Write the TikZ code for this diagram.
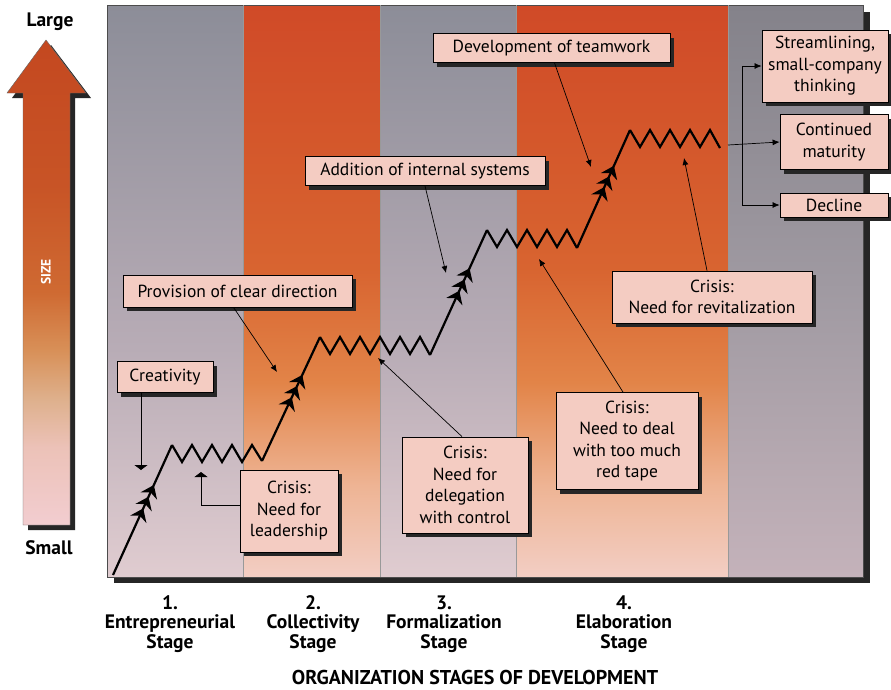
\documentclass[tikz,border=0pt]{standalone}
\usepackage{fontspec}
\setmainfont{PT Sans}
\usetikzlibrary{arrows.meta,decorations.markings,shadows}
\definecolor{boxpink}{HTML}{F4CCC2}
\pgfdeclareverticalshading{greyband}{100bp}{color(0bp)=(rgb,255:red,224;green,204;blue,208);
  color(25bp)=(rgb,255:red,224;green,204;blue,208); color(45bp)=(rgb,255:red,184;green,172;blue,182);
  color(75bp)=(rgb,255:red,140;green,141;blue,152); color(100bp)=(rgb,255:red,140;green,141;blue,152)}
\pgfdeclareverticalshading{darkband}{100bp}{color(0bp)=(rgb,255:red,196;green,178;blue,186);
  color(25bp)=(rgb,255:red,196;green,178;blue,186); color(50bp)=(rgb,255:red,160;green,154;blue,162);
  color(75bp)=(rgb,255:red,132;green,130;blue,138); color(100bp)=(rgb,255:red,132;green,130;blue,138)}
\pgfdeclareverticalshading{orband}{100bp}{color(0bp)=(rgb,255:red,243;green,206;blue,196);
  color(25bp)=(rgb,255:red,243;green,206;blue,196); color(33bp)=(rgb,255:red,238;green,180;blue,148);
  color(42bp)=(rgb,255:red,226;green,132;blue,72); color(52bp)=(rgb,255:red,216;green,100;blue,48);
  color(66bp)=(rgb,255:red,211;green,84;blue,42); color(75bp)=(rgb,255:red,208;green,74;blue,40);
  color(100bp)=(rgb,255:red,208;green,74;blue,40)}
\pgfdeclareverticalshading{sizearrow}{100bp}{color(0bp)=(rgb,255:red,242;green,205;blue,208);
  color(25bp)=(rgb,255:red,242;green,205;blue,208); color(33bp)=(rgb,255:red,236;green,194;blue,184);
  color(38bp)=(rgb,255:red,222;green,176;blue,140); color(43bp)=(rgb,255:red,216;green,144;blue,88);
  color(49bp)=(rgb,255:red,207;green,106;blue,50); color(60bp)=(rgb,255:red,200;green,84;blue,38);
  color(75bp)=(rgb,255:red,196;green,72;blue,32); color(100bp)=(rgb,255:red,196;green,72;blue,32)}
\begin{document}
\begin{tikzpicture}[x=1pt,y=-1pt,
  >={Latex[length=7pt,width=6pt]},
  box/.style={draw=black,line width=0.8pt,fill=boxpink,align=center,inner sep=0pt,
    font=\fontsize{17.5}{21.5}\selectfont,
    drop shadow={shadow xshift=4pt,shadow yshift=-4pt,fill=black!85,opacity=1}},
  conn/.style={draw,line width=0.7pt,->},
  flat/.style={draw,line width=0.8pt,-{Triangle[length=5pt,width=13pt]}},
  growth/.style={draw,line width=2.2pt,line join=miter},
  barbs/.style={postaction={decorate},decoration={markings,
    mark=between positions 0.47 and 0.66 step 0.09 with {\fill (6pt,0pt) -- (-6pt,9pt) -- (-2pt,0pt) -- (-6pt,-9pt) -- cycle;}}},
  stage/.style={font=\bfseries\fontsize{19.5}{19.5}\selectfont,align=center,anchor=north}]
  \useasboundingbox (0,0) rectangle (891,689);
  \fill[white] (0,0) rectangle (891,689);
  \fill[black!85] (114,12) rectangle (870,583);
  \foreach \xa/\xb/\sh in {107/243/greyband, 243/380/orband, 380/516/greyband, 516/728/orband, 728/863/darkband}
    \shade[shading=\sh] (\xa,5) rectangle (\xb,577);
  \draw[black!70,line width=0.6pt] (107,5) rectangle (863,577);
  \foreach \xa in {243,380,516,728}
    \draw[black!40,line width=0.4pt] (\xa,5) -- (\xa,577);
  \fill[black!85] (12,98) -- (51,45) -- (91,98) -- (75,98) -- (75,530) -- (28,530) -- (28,98) -- cycle;
  \shade[shading=sizearrow,draw=black!60,line width=0.4pt]
    (7,93) -- (46,40) -- (86,93) -- (70,93) -- (70,525) -- (23,525) -- (23,93) -- cycle;
  \node[font=\bfseries\fontsize{13.5}{13.5}\selectfont,text=white,rotate=90] (size) at (46,272) {SIZE};
  \node[font=\bfseries\fontsize{19.5}{19.5}\selectfont] (large) at (50,22) {Large};
  \node[font=\bfseries\fontsize{19.5}{19.5}\selectfont] (small) at (49,548) {Small};
  \coordinate (g0) at (113,575);
  \coordinate (z1s) at (172,445); \coordinate (z1e) at (262,461);
  \coordinate (z2s) at (320,337); \coordinate (z2e) at (430,355);
  \coordinate (z3s) at (487,230); \coordinate (z3e) at (577,248);
  \coordinate (z4s) at (630,130); \coordinate (z4e) at (720,148);
  \foreach \a/\b/\n in {z1s/z1e/4, z2s/z2e/5, z3s/z3e/4, z4s/z4e/4}
    \draw[growth] (\a) \foreach \k in {1,...,\n} { -- ++(10,17) -- ++(10,-17) } -- (\b);
  \foreach \a/\b in {g0/z1s, z1e/z2s, z2e/z3s, z3e/z4s}
    \draw[growth,barbs] (\a) -- (\b);
  \node[box,minimum width=96,minimum height=31] (crea) at (165,377) {Creativity};
  \node[box,minimum width=98,minimum height=82] (lead) at (289,511) {Crisis:\\Need for\\leadership};
  \node[box,minimum width=229,minimum height=32] (dir) at (237.5,291) {Provision of clear direction};
  \node[box,minimum width=240,minimum height=29] (sys) at (425,171) {Addition of internal systems};
  \node[box,minimum width=237,minimum height=29] (team) at (551.5,48) {Development of teamwork};
  \node[box,minimum width=200,minimum height=52] (revit) at (712,297) {Crisis:\\Need for revitalization};
  \node[box,minimum width=142,minimum height=97] (tape) at (627,441) {Crisis:\\Need to deal\\with too much\\red tape};
  \node[box,minimum width=126,minimum height=96] (deleg) at (465,485) {Crisis:\\Need for\\delegation\\with control};
  \node[box,minimum width=126,minimum height=72] (stream) at (825,66) {Streamlining,\\small-company\\thinking};
  \node[box,minimum width=108,minimum height=55] (mat) at (834,142) {Continued\\maturity};
  \node[box,minimum width=108,minimum height=24] (decl) at (834,205) {Decline};
  \coordinate (creaT) at (141,470);
  \coordinate (leadT) at (201,472);
  \coordinate (dirT) at (277,372);
  \coordinate (sysT) at (446,273);
  \coordinate (teamT) at (591,167);
  \coordinate (revitT) at (684,158);
  \coordinate (tapeT) at (539,259);
  \coordinate (delegT) at (378,358);
  \coordinate (out) at (728,145);
  \coordinate (fork) at (742,145);
  \draw[flat] (crea.south -| creaT) -- (creaT);
  \draw[flat] ([yshift=6pt]lead.west) -| (leadT);
  \draw[conn] ([xshift=-4pt]dir.south) -- (dirT);
  \draw[conn] (sys.south) -- (sysT);
  \draw[conn] ([xshift=3pt]team.south) -- (teamT);
  \draw[conn] ([xshift=-5pt]revit.north) -- (revitT);
  \draw[conn] ([xshift=-4pt]tape.north) -- (tapeT);
  \draw[conn] ([xshift=-3pt]deleg.north) -- (delegT);
  \draw[conn] (out) -- (mat.west);
  \draw[conn,<->] (stream.west) -| (fork) |- (decl.west);
  \node[stage] (s1) at (170,592) {1.\\Entrepreneurial\\Stage};
  \node[stage] (s2) at (313,592) {2.\\Collectivity\\Stage};
  \node[stage] (s3) at (444,592) {3.\\Formalization\\Stage};
  \node[stage] (s4) at (624,592) {4.\\Elaboration\\Stage};
  \node[font=\bfseries\fontsize{20}{20}\selectfont] (title) at (475,677) {ORGANIZATION STAGES OF DEVELOPMENT};
\end{tikzpicture}
\end{document}
